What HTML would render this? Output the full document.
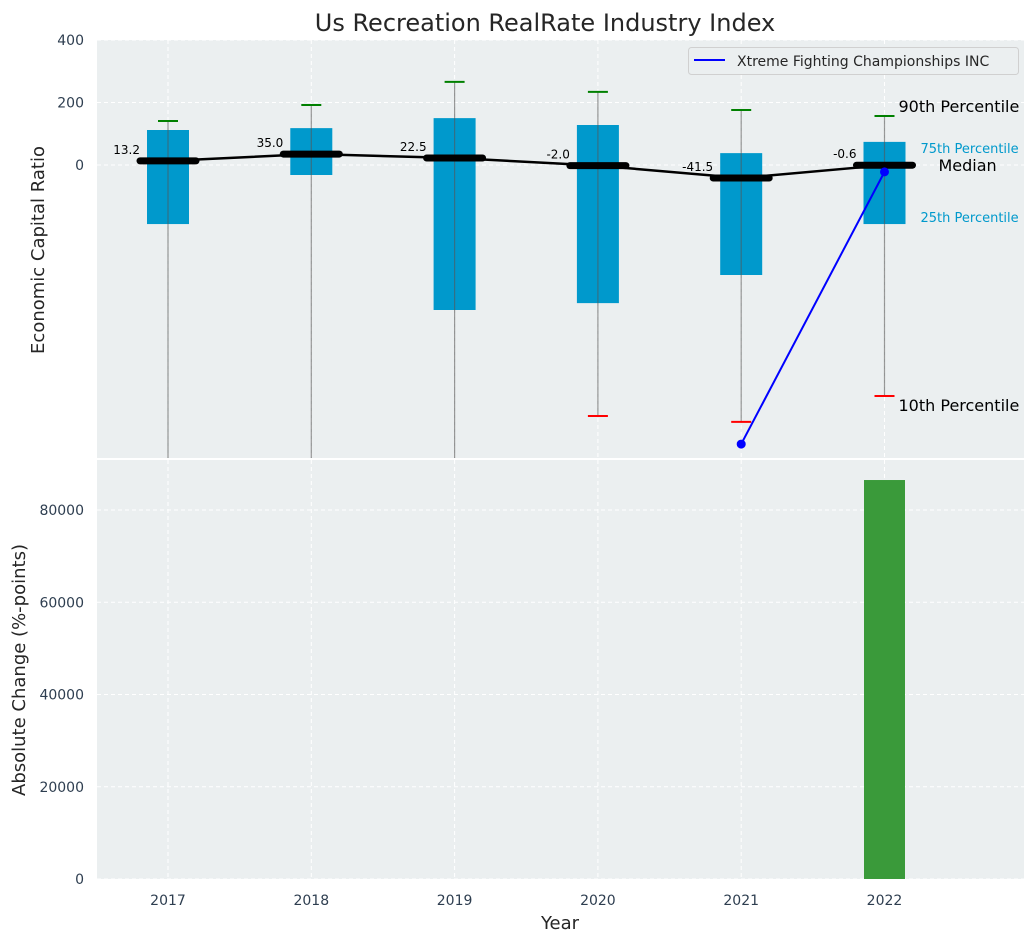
<!DOCTYPE html>
<html><head><meta charset="utf-8"><style>
body{margin:0;background:#fff;font-family:"Liberation Sans","DejaVu Sans",sans-serif;}
svg{display:block}
</style></head><body>
<svg id="chart" width="1036" height="942" xmlns="http://www.w3.org/2000/svg" font-family="DejaVu Sans, Liberation Sans, sans-serif"></svg>
<script>
const years = [2017, 2018, 2019, 2020, 2021, 2022];
const p90 = [141, 192, 266, 234, 176, 157];
const q75 = [112, 118, 150, 128, 38, 74];
const medians = [13.2, 35.0, 22.5, -2.0, -41.5, -0.6];
const q25 = [-189, -32, -464, -442, -352, -189];
const p10 = [null, null, null, -803, -822, -739];
const companyYears = [2021, 2022];
const companyValues = [-893, -22];
const changeYears = [2022];
const changeValues = [86500];
const topTicks = [0, 200, 400];
const bottomTicks = [0, 20000, 40000, 60000, 80000];

const NS = "http://www.w3.org/2000/svg";
const svg = document.getElementById('chart');
function mk(tag, attrs, parent) {
  const e = document.createElementNS(NS, tag);
  for (const k in attrs) e.setAttribute(k, attrs[k]);
  (parent || svg).appendChild(e);
  return e;
}
const L = 97, R = 1024;
const x = v => 168 + (v - 2017) * 143.3;
const T0 = 40, T1 = 458;
const yT = v => 165 - v * 62.5 / 200;
const B0 = 460, B1 = 879;
const yB = v => 879 - v * 92.25 / 20000;

// panels
let p = mk('rect', {x: L, y: T0, width: R - L, height: T1 - T0, fill: '#ebeff0'});


p = mk('rect', {x: L, y: B0, width: R - L, height: B1 - B0, fill: '#ebeff0'});



// grid
years.forEach(yr => {
  mk('line', {x1: x(yr), x2: x(yr), y1: T0, y2: T1, stroke: '#fff', 'stroke-dasharray': '4,3', 'stroke-width': 1});
  mk('line', {x1: x(yr), x2: x(yr), y1: B0, y2: B1, stroke: '#fff', 'stroke-dasharray': '4,3', 'stroke-width': 1});
  const t = mk('text', {x: x(yr), y: 905, 'text-anchor': 'middle', 'font-size': 14, fill: '#2e3e50'});
  t.textContent = yr;
  
  
});
topTicks.forEach(v => {
  mk('line', {x1: L, x2: R, y1: yT(v), y2: yT(v), stroke: '#fff', 'stroke-dasharray': '4,3'});
  const t = mk('text', {x: 84, y: yT(v) + 5, 'text-anchor': 'end', 'font-size': 14, fill: '#2e3e50'});
  t.textContent = v;
  
  
});
bottomTicks.forEach(v => {
  mk('line', {x1: L, x2: R, y1: yB(v), y2: yB(v), stroke: '#fff', 'stroke-dasharray': '4,3'});
  const t = mk('text', {x: 84, y: yB(v) + 5, 'text-anchor': 'end', 'font-size': 14, fill: '#2e3e50'});
  t.textContent = v;
  
  
});

// top clip
const defs = mk('defs', {});
const cp = mk('clipPath', {id: 'ct'}, defs);
mk('rect', {x: L, y: T0, width: R - L, height: T1 - T0}, cp);
const g = mk('g', {'clip-path': 'url(#ct)'});

const bw = 42;
years.forEach((yr, i) => {
  const b = mk('rect', {x: x(yr) - bw / 2, y: yT(q75[i]), width: bw, height: yT(q25[i]) - yT(q75[i]), fill: '#0099cc'}, g);
  
  
  const lo = p10[i] === null ? -1000 : p10[i];
  mk('line', {x1: x(yr), x2: x(yr), y1: yT(p90[i]), y2: yT(lo), stroke: '#555', 'stroke-opacity': 0.6, 'stroke-width': 1.2}, g);
  const c90 = mk('line', {x1: x(yr) - 10, x2: x(yr) + 10, y1: yT(p90[i]), y2: yT(p90[i]), stroke: 'green', 'stroke-width': 2}, g);
  
  
  if (p10[i] !== null) {
    const c10 = mk('line', {x1: x(yr) - 10, x2: x(yr) + 10, y1: yT(p10[i]), y2: yT(p10[i]), stroke: 'red', 'stroke-width': 2}, g);
    
    
  }
});
// median connecting line
const ml = mk('polyline', {points: years.map((yr, i) => x(yr) + ',' + yT(medians[i])).join(' '), fill: 'none', stroke: '#000', 'stroke-width': 2.5}, g);


years.forEach((yr, i) => {
  const m = mk('line', {x1: x(yr) - 28, x2: x(yr) + 28, y1: yT(medians[i]), y2: yT(medians[i]), stroke: '#000', 'stroke-width': 7, 'stroke-linecap': 'round'}, g);
  
  
  const t = mk('text', {x: x(yr) - 28, y: yT(medians[i]) - 7, 'text-anchor': 'end', 'font-size': 12, fill: '#000'}, g);
  t.textContent = medians[i].toFixed(1);
  
  
});
// company line
const cl = mk('polyline', {points: companyYears.map((yr, i) => x(yr) + ',' + yT(companyValues[i])).join(' '), fill: 'none', stroke: '#0000ff', 'stroke-width': 2}, g);


companyYears.forEach((yr, i) => {
  const c = mk('circle', {cx: x(yr), cy: yT(companyValues[i]), r: 4.5, fill: '#0000ff'}, g);
  
  
});

// annotations
const last = years.length - 1;
const ax = x(years[last]);
[['90th Percentile', ax + 14, yT(p90[last]) - 4, 16, '#000'],
 ['75th Percentile', ax + 36, yT(q75[last]) + 11, 13, '#0099cc'],
 ['Median', ax + 54, yT(medians[last]) + 6, 16, '#000'],
 ['25th Percentile', ax + 36, yT(q25[last]) - 2, 13, '#0099cc'],
 ['10th Percentile', ax + 14, yT(p10[last]) + 15, 16, '#000']].forEach(a => {
  const t = mk('text', {x: a[1], y: a[2], 'font-size': a[3], fill: a[4]});
  t.textContent = a[0];
  
  
});

// legend
const lg = mk('g', {});


mk('rect', {x: 688.5, y: 47.5, width: 330, height: 27, rx: 3, fill: '#ebeff0', stroke: '#d0d0d0'}, lg);
mk('line', {x1: 694, x2: 725, y1: 60, y2: 60, stroke: '#0000ff', 'stroke-width': 2}, lg);
const lt = mk('text', {x: 737, y: 66, 'font-size': 14, fill: '#262626'}, lg);
lt.textContent = 'Xtreme Fighting Championships INC';

// bottom bars
changeYears.forEach((yr, i) => {
  const b = mk('rect', {x: x(yr) - 20.5, y: yB(changeValues[i]), width: 41, height: yB(0) - yB(changeValues[i]), fill: '#3a9a3a'});
  
  
});
// separator
mk('line', {x1: L, x2: R, y1: 459, y2: 459, stroke: '#fff', 'stroke-width': 2});

// titles
let t = mk('text', {x: 545, y: 31, 'text-anchor': 'middle', 'font-size': 24, fill: '#262626'});
t.textContent = 'Us Recreation RealRate Industry Index';
 
t = mk('text', {x: 44, y: 250, 'text-anchor': 'middle', 'font-size': 18, fill: '#262626', transform: 'rotate(-90 44 250)'});
t.textContent = 'Economic Capital Ratio';
 
t = mk('text', {x: 25, y: 670, 'text-anchor': 'middle', 'font-size': 18, fill: '#262626', transform: 'rotate(-90 25 670)'});
t.textContent = 'Absolute Change (%-points)';
 
t = mk('text', {x: 560, y: 929, 'text-anchor': 'middle', 'font-size': 18, fill: '#262626'});
t.textContent = 'Year';
 
</script>
</body></html>
